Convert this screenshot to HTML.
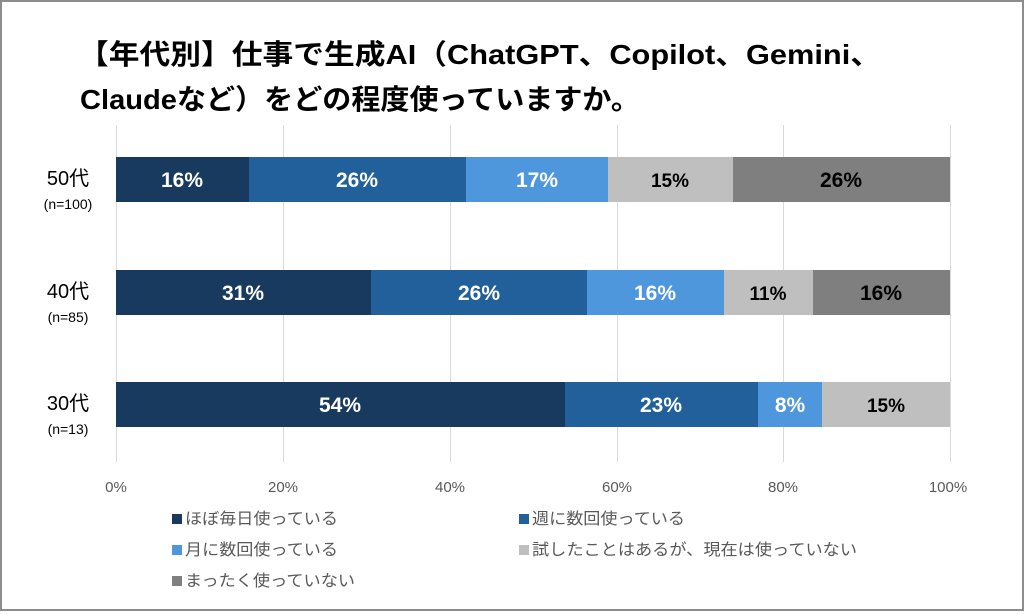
<!DOCTYPE html>
<html><head><meta charset="utf-8"><style>
body{margin:0;background:#fff}
svg text{font-family:"Liberation Sans","Noto Sans CJK JP",sans-serif}
</style></head><body>
<svg width="1024" height="611" viewBox="0 0 1024 611" xmlns="http://www.w3.org/2000/svg">
<rect x="1" y="1" width="1022" height="609" fill="#fff" stroke="#8c8c8c" stroke-width="2"/>
<text x="78" y="64" font-size="28" font-weight="bold" fill="#000" textLength="803" lengthAdjust="spacingAndGlyphs">【年代別】仕事で生成AI（ChatGPT、Copilot、Gemini、</text>
<text x="80" y="109" font-size="28" font-weight="bold" fill="#000" textLength="560" lengthAdjust="spacingAndGlyphs">Claudeなど）をどの程度使っていますか。</text>
<g stroke="#d9d9d9" stroke-width="1">
<line x1="116.5" y1="125" x2="116.5" y2="462"/><line x1="283.5" y1="125" x2="283.5" y2="462"/>
<line x1="450.5" y1="125" x2="450.5" y2="462"/><line x1="617.5" y1="125" x2="617.5" y2="462"/>
<line x1="783.5" y1="125" x2="783.5" y2="462"/><line x1="950.5" y1="125" x2="950.5" y2="462"/>
</g>
<g>
<rect x="116" y="157" width="133" height="45" fill="#173a5e"/>
<rect x="249" y="157" width="217" height="45" fill="#22609c"/>
<rect x="466" y="157" width="142" height="45" fill="#4f97dc"/>
<rect x="608" y="157" width="125" height="45" fill="#bfbfbf"/>
<rect x="733" y="157" width="217" height="45" fill="#7f7f7f"/>
<rect x="116" y="270" width="255" height="45" fill="#173a5e"/>
<rect x="371" y="270" width="216" height="45" fill="#22609c"/>
<rect x="587" y="270" width="137" height="45" fill="#4f97dc"/>
<rect x="724" y="270" width="89" height="45" fill="#bfbfbf"/>
<rect x="813" y="270" width="137" height="45" fill="#7f7f7f"/>
<rect x="116" y="382" width="449" height="45" fill="#173a5e"/>
<rect x="565" y="382" width="193" height="45" fill="#22609c"/>
<rect x="758" y="382" width="64" height="45" fill="#4f97dc"/>
<rect x="822" y="382" width="128" height="45" fill="#bfbfbf"/>
</g>
<g font-size="21" font-weight="bold" text-anchor="middle">
<text x="182" y="187" fill="#fff">16%</text><text x="357" y="187" fill="#fff">26%</text>
<text x="537" y="187" fill="#fff">17%</text><text x="670" y="187" font-size="19" fill="#000">15%</text>
<text x="841" y="187" fill="#000">26%</text>
<text x="243" y="300" fill="#fff">31%</text><text x="479" y="300" fill="#fff">26%</text>
<text x="655" y="300" fill="#fff">16%</text><text x="768" y="300" font-size="19" fill="#000">11%</text>
<text x="881" y="300" fill="#000">16%</text>
<text x="340" y="412" fill="#fff">54%</text><text x="661" y="412" fill="#fff">23%</text>
<text x="790" y="412" fill="#fff">8%</text><text x="886" y="412" font-size="19" fill="#000">15%</text>
</g>
<g text-anchor="middle" fill="#000">
<text x="68" y="185" font-size="20">50代</text><text x="68" y="209" font-size="14">(n=100)</text>
<text x="68" y="298" font-size="20">40代</text><text x="68" y="322" font-size="14">(n=85)</text>
<text x="68" y="410" font-size="20">30代</text><text x="68" y="434" font-size="14">(n=13)</text>
</g>
<g font-size="15" fill="#595959" text-anchor="middle">
<text x="116" y="492">0%</text><text x="283" y="492">20%</text><text x="450" y="492">40%</text>
<text x="617" y="492">60%</text><text x="783" y="492">80%</text><text x="948" y="492">100%</text>
</g>
<g font-size="16" fill="#595959">
<rect x="172" y="514" width="10" height="10" fill="#173a5e"/><text x="185" y="524" textLength="153" lengthAdjust="spacingAndGlyphs">ほぼ毎日使っている</text>
<rect x="519" y="514" width="10" height="10" fill="#22609c"/><text x="532" y="524" textLength="153" lengthAdjust="spacingAndGlyphs">週に数回使っている</text>
<rect x="172" y="545" width="10" height="10" fill="#4f97dc"/><text x="185" y="555" textLength="153" lengthAdjust="spacingAndGlyphs">月に数回使っている</text>
<rect x="519" y="545" width="10" height="10" fill="#bfbfbf"/><text x="532" y="555" textLength="325" lengthAdjust="spacingAndGlyphs">試したことはあるが、現在は使っていない</text>
<rect x="172" y="576" width="10" height="10" fill="#7f7f7f"/><text x="185" y="586" textLength="170" lengthAdjust="spacingAndGlyphs">まったく使っていない</text>
</g>
</svg>
</body></html>
